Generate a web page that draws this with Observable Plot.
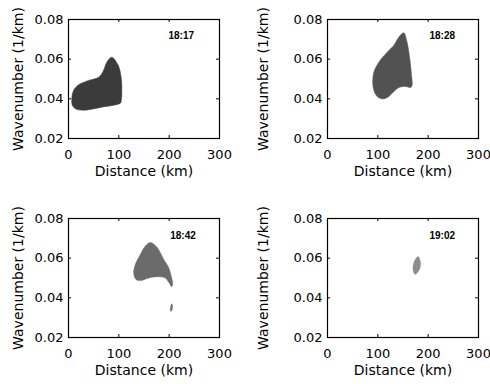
<!DOCTYPE html>
<html>
<head>
<meta charset="utf-8">
<script src="https://cdn.jsdelivr.net/npm/d3@7"></script>
<script src="https://cdn.jsdelivr.net/npm/@observablehq/plot@0.6"></script>
<style>
  html, body { margin: 0; padding: 0; background: #fff; }
  #wrap { position: relative; width: 490px; height: 384px; overflow: hidden; }
  .panel { position: absolute; width: 245px; height: 192px; }
  .panel svg { display: block; }
</style>
</head>
<body>
<div id="wrap"></div>
<script>
// ---- data ----
const times = ["18:17", "18:28", "18:42", "19:02"];
const xTicks = [0, 100, 200, 300];
const yTicks = [0.02, 0.04, 0.06, 0.08];
const xLabel = "Distance (km)";
const yLabel = "Wavenumber (1/km)";

// Panel 18:17 outline
const km1817 = [86, 99, 105, 106, 105, 103, 66, 33, 16, 8, 6.5, 10, 20, 40, 60, 69.5, 76];
const wn1817 = [0.0610, 0.0568, 0.0501, 0.0451, 0.0392, 0.0378, 0.0358, 0.0343, 0.0347, 0.0365, 0.0400, 0.0442, 0.0471, 0.0493, 0.0509, 0.0543, 0.0585];

// Panel 18:28 outline
const km1828 = [151.5, 158, 163.5, 167, 168, 165, 155, 142, 132, 122, 112, 102, 94, 90, 92, 102, 118.5, 131.5, 141.5];
const wn1828 = [0.0733, 0.0686, 0.0602, 0.0518, 0.0467, 0.0457, 0.0462, 0.0457, 0.0437, 0.0412, 0.0400, 0.0405, 0.0430, 0.0472, 0.0534, 0.0585, 0.0635, 0.0669, 0.0711];

// Panel 18:42 outlines (main body + small patch)
const km1842a = [163, 176, 189, 199, 204, 207, 205, 199.5, 193, 183, 163, 143, 134, 129.5, 133, 143, 153];
const wn1842a = [0.0679, 0.0654, 0.0595, 0.0553, 0.0511, 0.0469, 0.0456, 0.0477, 0.0499, 0.0506, 0.0503, 0.0487, 0.0493, 0.0528, 0.0570, 0.0620, 0.0662];
const km1842b = [205.5, 206.5, 205, 203, 202.5, 204];
const wn1842b = [0.0370, 0.0355, 0.0335, 0.0332, 0.0345, 0.0365];

// Panel 19:02 outline
const km1902 = [180, 184.5, 183, 174, 170, 172];
const wn1902 = [0.0608, 0.0580, 0.0545, 0.0518, 0.0540, 0.0580];

// fill colours per panel
const fills = ["#3b3b3b", "#525252", "#6b6b6b", "#8d8d8d"];
// time label positions (km, 1/km)
const labelKm = [224, 228, 227.5, 228];
const labelWn = [0.0719, 0.0716, 0.0715, 0.0715];

// ---- build ----
const toRows = (km, wn, part) => km.map((d, i) => ({km: d, wn: wn[i], part}));
const blobs = [
  toRows(km1817, wn1817, "a"),
  toRows(km1828, wn1828, "a"),
  [...toRows(km1842a, wn1842a, "a"), ...toRows(km1842b, wn1842b, "b")],
  toRows(km1902, wn1902, "a")
];

const layout = [
  {left: 0,   top: 0,   mL: 68, mR: 26, mT: 19, mB: 54},
  {left: 245, top: 0,   mL: 82, mR: 12, mT: 19, mB: 54},
  {left: 0,   top: 192, mL: 68, mR: 26, mT: 26, mB: 47},
  {left: 245, top: 192, mL: 82, mR: 12, mT: 26, mB: 47}
];

const font = "DejaVu Sans, sans-serif";
const wrap = document.getElementById("wrap");

layout.forEach((L, i) => {
  const W = 245, H = 192;
  const iw = W - L.mL - L.mR, ih = H - L.mT - L.mB;
  const tl = 3;
  const chart = Plot.plot({
    width: W, height: H,
    marginLeft: L.mL, marginRight: L.mR, marginTop: L.mT, marginBottom: L.mB,
    style: {fontFamily: font, background: "white", color: "black"},
    x: {domain: [0, 300], axis: null},
    y: {domain: [0.02, 0.08], axis: null},
    marks: [
      Plot.line(blobs[i], {x: "km", y: "wn", z: "part", curve: "catmull-rom-closed", fill: fills[i], stroke: fills[i], strokeWidth: 0.5}),
      Plot.frame({stroke: "black", strokeWidth: 1.2}),
      Plot.tickX(xTicks, {x: d => d, insetTop: ih - tl, stroke: "black"}),
      Plot.tickX(xTicks, {x: d => d, insetBottom: ih - tl, stroke: "black"}),
      Plot.tickY(yTicks, {y: d => d, insetRight: iw - tl, stroke: "black"}),
      Plot.tickY(yTicks, {y: d => d, insetLeft: iw - tl, stroke: "black"}),
      Plot.axisX(xTicks, {tickSize: 0, tickPadding: 11, fontSize: 13, label: null, tickFormat: d => String(d)}),
      Plot.axisY(yTicks, {tickSize: 0, tickPadding: 5, fontSize: 13, label: null, tickFormat: d3.format(".2f")}),
      Plot.text([xLabel], {frameAnchor: "bottom", dy: 33, text: d => d, fontSize: 14, lineAnchor: "middle", textAnchor: "middle"}),
      Plot.text([yLabel], {frameAnchor: "left", dx: -(L.mL - 18), text: d => d, fontSize: 14, rotate: -90, lineAnchor: "middle", textAnchor: "middle"}),
      Plot.text([times[i]], {x: () => labelKm[i], y: () => labelWn[i], text: d => d, fontSize: 10, fontFamily: "Liberation Sans, Arial, sans-serif", fontWeight: "bold", lineAnchor: "middle", textAnchor: "middle"})
    ]
  });
  const div = document.createElement("div");
  div.className = "panel";
  div.style.left = L.left + "px";
  div.style.top = L.top + "px";
  div.appendChild(chart);
  wrap.appendChild(div);
});
</script>
</body>
</html>
